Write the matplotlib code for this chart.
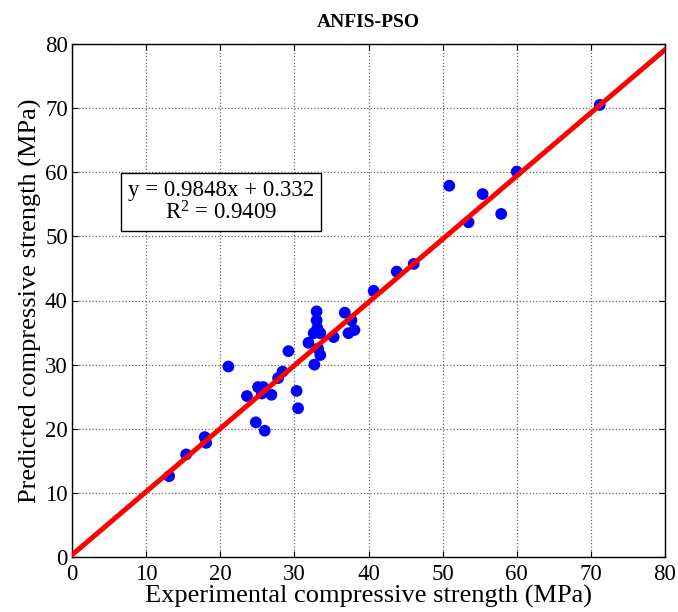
import numpy as np
import matplotlib
matplotlib.use('Agg')
import matplotlib.pyplot as plt

# experimental vs predicted compressive strength (MPa)
experimental = [13.1, 15.4, 17.9, 18.1, 21.1, 23.6, 24.8, 25.1, 25.6, 25.8,
                26.0, 26.9, 27.8, 28.4, 29.2, 30.3, 30.5, 31.9, 32.6, 32.7,
                33.0, 33.0, 33.1, 33.2, 33.5, 33.5, 35.3, 36.8, 37.3, 37.7,
                38.1, 40.7, 43.8, 46.1, 50.9, 53.5, 55.4, 57.9, 60.0, 71.2]
predicted = [12.6, 16.0, 18.7, 17.8, 29.7, 25.1, 21.0, 26.5, 25.5, 26.5,
             19.7, 25.3, 27.9, 28.9, 32.1, 25.9, 23.2, 33.4, 34.9, 30.0,
             38.3, 36.9, 35.7, 32.5, 34.9, 31.5, 34.3, 38.1, 34.9, 36.9,
             35.4, 41.5, 44.5, 45.7, 57.9, 52.2, 56.6, 53.5, 60.1, 70.5]

# regression line
SLOPE = 0.9848
INTERCEPT = 0.332
R2 = 0.9409

TICKS = [0, 10, 20, 30, 40, 50, 60, 70, 80]

FONT = 'Liberation Serif'
plt.rcParams['font.family'] = [FONT, 'DejaVu Serif']
plt.rcParams['mathtext.fontset'] = 'custom'
plt.rcParams['mathtext.rm'] = FONT
plt.rcParams['mathtext.it'] = FONT + ':italic'

fig = plt.figure(figsize=(6.78, 6.12), dpi=100)
ax = fig.add_axes([72 / 678, 1 - 557 / 612, (665 - 72) / 678, (557 - 44) / 612])

ax.grid(True, linestyle=':', color='#666666', linewidth=0.9)
ax.set_axisbelow(True)

line_x = np.array([0, 80])
ax.plot(line_x, SLOPE * line_x + INTERCEPT, color='#ff0000', linewidth=3.6, zorder=3)
ax.scatter(experimental, predicted, s=72, color='#0000ff', edgecolors='none', zorder=2)

ax.set_xlim(0, 80)
ax.set_ylim(0, 80)
ax.set_xticks(TICKS)
ax.set_yticks(TICKS)
ax.tick_params(direction='in', top=True, right=True, labelsize=16.5, length=4, width=0.8)
ax.tick_params(axis='x', pad=5)
ax.tick_params(axis='y', pad=3)
for s in ax.spines.values():
    s.set_linewidth(1.0)

ax.set_xlabel('Experimental compressive strength (MPa)', fontsize=19, labelpad=0)
ax.set_ylabel('Predicted compressive strength (MPa)', fontsize=19, labelpad=2)
ax.set_title('ANFIS-PSO', fontsize=14, fontweight='bold', pad=12)

ax.text(20.1, 55.3, 'y = %.4fx + %.3f\nR$^\\mathrm{2}$ = %.4f' % (SLOPE, INTERCEPT, R2),
        ha='center', va='center', fontsize=16.5, linespacing=1.0,
        bbox=dict(boxstyle='square,pad=0.3', facecolor='white', edgecolor='black', linewidth=1.0),
        zorder=4)

plt.savefig('out.png', dpi=100)
